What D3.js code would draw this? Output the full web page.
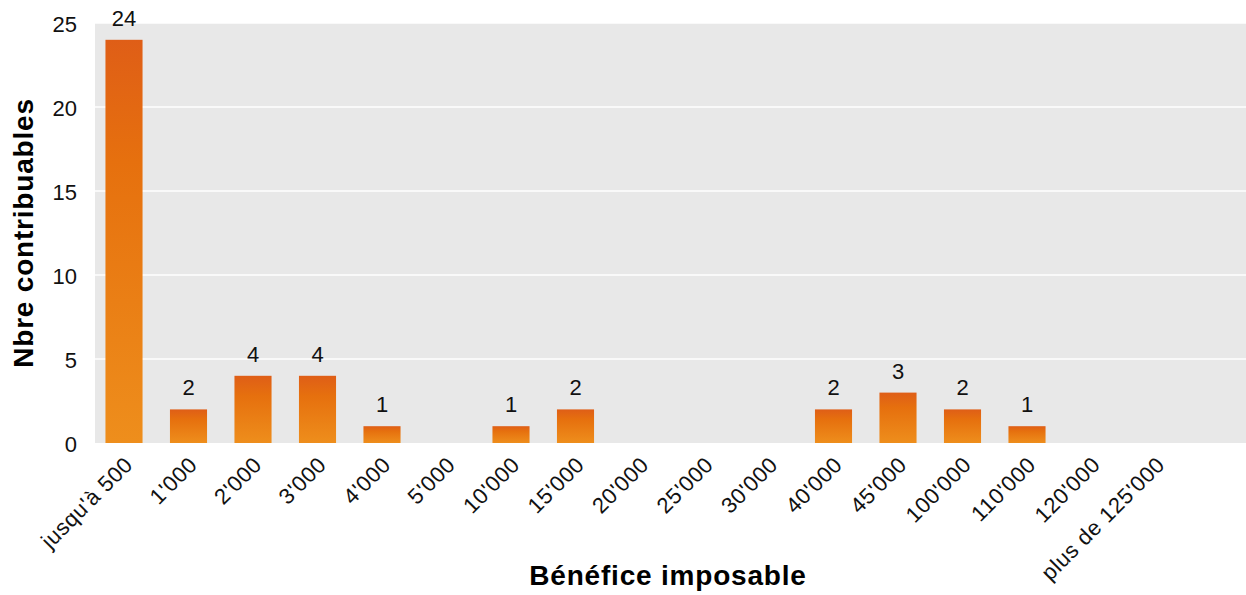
<!DOCTYPE html>
<html>
<head>
<meta charset="utf-8">
<script src="https://cdn.jsdelivr.net/npm/d3@7"></script>
<style>
  body { margin: 0; background: #fff; }
  text { font-family: "Liberation Sans", Arial, sans-serif; }
</style>
</head>
<body>
<div class="chart"></div>
<script>
var categories = ["jusqu'à 500", "1'000", "2'000", "3'000", "4'000", "5'000", "10'000", "15'000",
                  "20'000", "25'000", "30'000", "40'000", "45'000", "100'000", "110'000", "120'000",
                  "plus de 125'000"];
var counts = [24, 2, 4, 4, 1, 0, 1, 2, 0, 0, 0, 2, 3, 2, 1, 0, 0];
var yTicks = [0, 5, 10, 15, 20, 25];

var width = 1246, height = 595;
var plotLeft = 95, plotRight = 1246, plotTop = 23, plotBottom = 443;

var svg = d3.select(".chart")
    .append("svg")
    .attr("width", width)
    .attr("height", height);

var defs = svg.append("defs");
var grad = defs.append("linearGradient")
    .attr("id", "barGrad")
    .attr("x1", 0).attr("y1", 0).attr("x2", 0).attr("y2", 1);
grad.append("stop").attr("offset", "0%").attr("stop-color", "#df5e17");
grad.append("stop").attr("offset", "30%").attr("stop-color", "#e6700e");
grad.append("stop").attr("offset", "100%").attr("stop-color", "#ee8e1c");

var x = d3.scaleBand()
    .domain(categories)
    .range([91.75, 91.75 + 64.5 * categories.length])
    .paddingInner(0.425)
    .paddingOuter(0.2125);

var y = d3.scaleLinear()
    .domain([0, 25])
    .range([plotBottom, plotTop]);

// plot background
svg.append("rect")
    .attr("x", plotLeft)
    .attr("y", plotTop)
    .attr("width", plotRight - plotLeft)
    .attr("height", plotBottom - plotTop)
    .attr("fill", "#e8e8e8");

// gridlines
svg.selectAll(".grid")
    .data(yTicks.filter(function(d) { return d > 0; }))
    .enter()
    .append("line")
    .attr("x1", plotLeft)
    .attr("x2", plotRight)
    .attr("y1", function(d) { return y(d); })
    .attr("y2", function(d) { return y(d); })
    .attr("stroke", "#ffffff")
    .attr("stroke-width", 1.5);

// y axis
var yAxis = svg.append("g")
    .attr("transform", "translate(" + plotLeft + ",0)")
    .call(d3.axisLeft(y).tickValues(yTicks).tickSize(0).tickPadding(18));
yAxis.select(".domain").remove();
yAxis.selectAll("text")
    .attr("font-size", 22)
    .attr("dy", "0.4em")
    .attr("fill", "#111");

// bars
var bar = svg.selectAll(".bar")
    .data(categories.map(function(c, i) { return { name: c, value: counts[i] }; }))
    .enter()
    .append("g")
    .attr("class", "bar");

bar.filter(function(d) { return d.value > 0; })
    .append("rect")
    .attr("x", function(d) { return x(d.name); })
    .attr("y", function(d) { return y(d.value); })
    .attr("width", x.bandwidth())
    .attr("height", function(d) { return y(0) - y(d.value); })
    .attr("fill", "url(#barGrad)");

bar.filter(function(d) { return d.value > 0; })
    .append("text")
    .attr("x", function(d) { return x(d.name) + x.bandwidth() / 2; })
    .attr("y", function(d) { return y(d.value) - 14; })
    .attr("text-anchor", "middle")
    .attr("font-size", 22)
    .attr("fill", "#111")
    .text(function(d) { return d.value; });

// x axis labels
var xAxis = svg.append("g")
    .attr("transform", "translate(0," + plotBottom + ")")
    .call(d3.axisBottom(x).tickSize(0).tickPadding(0));
xAxis.select(".domain").remove();
xAxis.selectAll("text")
    .attr("font-size", 22)
    .attr("letter-spacing", 0.6)
    .attr("fill", "#111")
    .attr("text-anchor", "end")
    .attr("dy", "0.71em")
    .attr("y", 0)
    .attr("transform", "translate(-1,12) rotate(-45)");

// axis titles
svg.append("text")
    .attr("x", 668)
    .attr("y", 585)
    .attr("text-anchor", "middle")
    .attr("font-size", 28)
    .attr("letter-spacing", 0.8)
    .attr("font-weight", "bold")
    .attr("fill", "#000")
    .text("Bénéfice imposable");

svg.append("text")
    .attr("transform", "translate(33," + ((plotTop + plotBottom) / 2) + ") rotate(-90)")
    .attr("text-anchor", "middle")
    .attr("font-size", 28)
    .attr("letter-spacing", 0.8)
    .attr("font-weight", "bold")
    .attr("fill", "#000")
    .text("Nbre contribuables");
</script>
</body>
</html>
